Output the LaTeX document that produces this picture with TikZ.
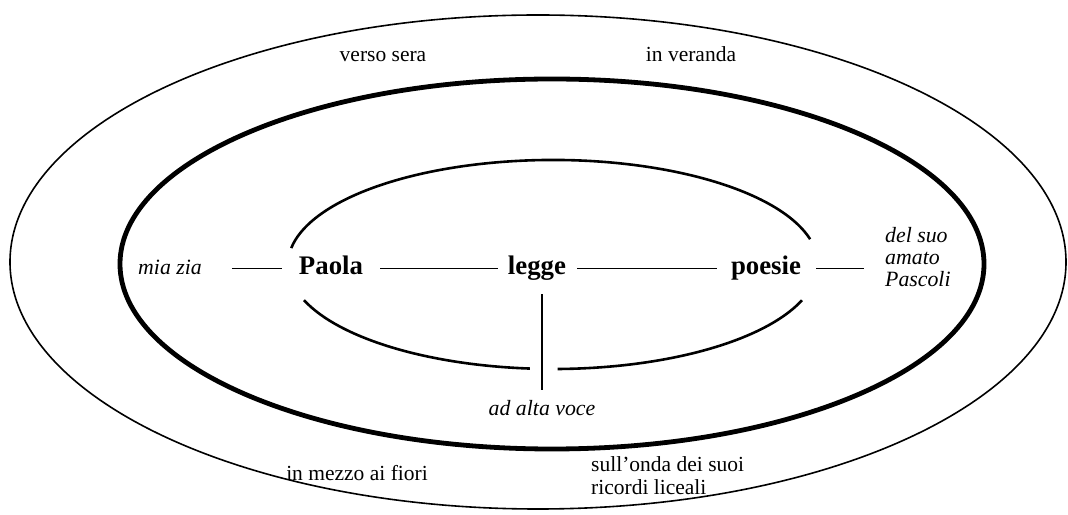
\documentclass[tikz,border=0pt]{standalone}
\usepackage{fontspec}
\setmainfont{Liberation Serif}
\begin{document}
\begin{tikzpicture}[x=1pt,y=1pt,
  txt/.style={inner sep=0pt, font=\fontsize{21.5}{23}\selectfont},
  itxt/.style={inner sep=0pt, font=\fontsize{21.8}{22}\selectfont\itshape},
  word/.style={inner sep=0pt, text height=18pt, text depth=5pt, font=\fontsize{26.8}{28}\selectfont\bfseries},
  iword/.style={inner sep=0pt, text height=18pt, text depth=5pt, font=\fontsize{21.8}{22}\selectfont\itshape},
  link/.style={line width=1.6pt},
  thinring/.style={line width=1.6pt},
  thickring/.style={line width=4.8pt},
  midring/.style={line width=2.6pt}]
\useasboundingbox (0,0) rectangle (1068,514);
% rings
\draw[thinring] (538,252) ellipse [x radius=528pt, y radius=247pt];
\draw[thickring] (552,250) ellipse [x radius=432pt, y radius=185pt];
\draw[midring] (810.1,274.8) arc[start angle=14, end angle=171, x radius=265pt, y radius=104.5pt];
\draw[midring] (304.0,213.8) arc[start angle=200, end angle=265, x radius=265pt, y radius=104.5pt];
\draw[midring] (557.6,145.0) arc[start angle=271, end angle=340, x radius=265pt, y radius=104.5pt];
% words
\node[iword] (zia) at (170,245.5) {mia zia};
\node[word] (paola) at (331,245.5) {Paola};
\node[word] (legge) at (537,245.5) {legge};
\node[word] (poesie) at (766,245.5) {poesie};
\node[itxt, align=left, anchor=west] (pascoli) at (885,256.5) {del suo\\amato\\Pascoli};
\node[itxt, anchor=base] (alta) at (542,98) {ad alta voce};
% outer texts
\node[txt, anchor=base] (sera) at (383,452) {verso sera};
\node[txt, anchor=base] (veranda) at (691,452) {in veranda};
\node[txt, anchor=base] (fiori) at (357,34) {in mezzo ai fiori};
\node[txt, align=left, anchor=west] (onda) at (591,38) {sull’onda dei suoi\\ricordi liceali};
% connectors
\draw[link, shorten <=30pt, shorten >=17pt] (zia.east) -- (paola.west);
\draw[link, shorten <=17pt, shorten >=10pt] (paola.east) -- (legge.west);
\draw[link, shorten <=11pt, shorten >=14pt] (legge.east) -- (poesie.west);
\draw[link, shorten <=15pt, shorten >=21pt] (poesie.east) -- (poesie.east -| pascoli.west);
\draw[link, shorten <=14pt, shorten >=11pt] (legge.south -| alta.north) -- (alta.north);
\end{tikzpicture}
\end{document}
